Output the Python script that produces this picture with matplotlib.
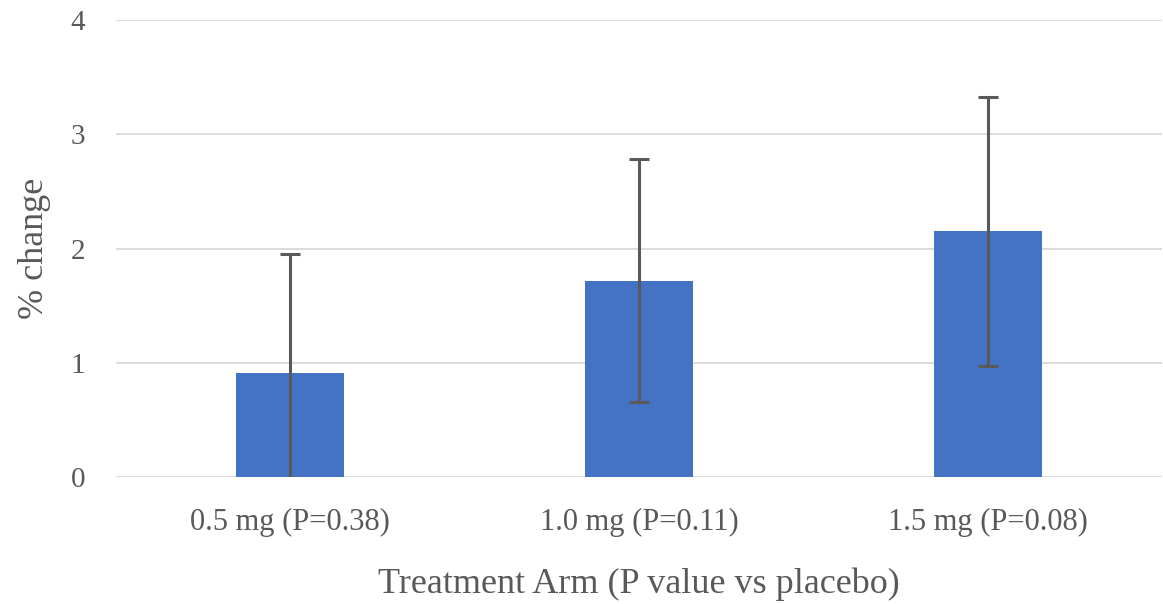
import matplotlib
matplotlib.use('Agg')
import matplotlib.pyplot as plt
import numpy as np

plt.rcParams['font.family'] = ['Liberation Serif', 'DejaVu Serif']

categories = ['0.5 mg (P=0.38)', '1.0 mg (P=0.11)', '1.5 mg (P=0.08)']
pct_change = [0.91, 1.72, 2.15]
err = [1.04, 1.06, 1.18]

text_color = '#595959'

fig = plt.figure(figsize=(11.63, 6.04), dpi=100)
ax = fig.add_axes([0.0995, 0.21, 0.9, 0.757])

x = np.arange(len(categories))
ax.bar(x, pct_change, width=0.31, color='#4472C4', zorder=2)
ax.errorbar(x, pct_change, yerr=err, fmt='none', ecolor='#595959',
            elinewidth=2.2, capsize=7, capthick=2.2, zorder=3)

ax.set_xlim(-0.5, 2.5)
ax.set_ylim(0, 4)
ax.set_yticks([0, 1, 2, 3, 4])
ax.set_xticks(x)
ax.set_xticklabels(categories)
ax.grid(True, axis='y', color='#d9d9d9', linewidth=1.3, zorder=0)
ax.tick_params(length=0, colors=text_color)
ax.tick_params(axis='x', labelsize=22, pad=22)
ax.tick_params(axis='y', labelsize=21, pad=22)
for s in ax.spines.values():
    s.set_visible(False)

ax.set_xlabel('Treatment Arm (P value vs placebo)', fontsize=26, color=text_color, labelpad=22)
ax.set_ylabel('% change', fontsize=26, color=text_color, labelpad=14)

plt.savefig('out.png', dpi=100)
plt.close(fig)
